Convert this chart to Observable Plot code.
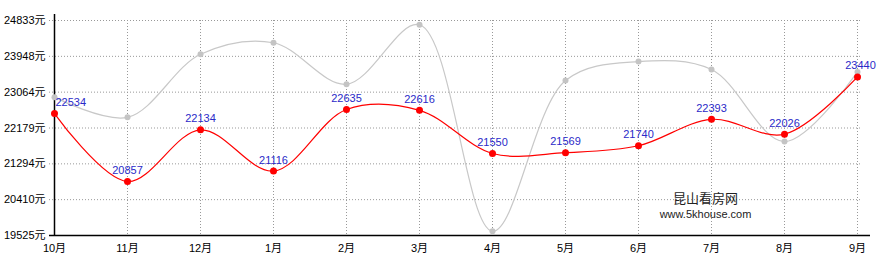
<!DOCTYPE html>
<html>
<head>
<meta charset="utf-8">
<script src="https://cdn.jsdelivr.net/npm/d3@7"></script>
<script src="https://cdn.jsdelivr.net/npm/@observablehq/plot@0.6"></script>
<style>
  html, body { margin: 0; padding: 0; background: #fff; }
  #chart svg { display: block; }
</style>
</head>
<body>
<div id="chart"></div>
<script>
const months = ["10月","11月","12月","1月","2月","3月","4月","5月","6月","7月","8月","9月"];
const avgPrice = [22534, 20857, 22134, 21116, 22635, 22616, 21550, 21569, 21740, 22393, 22026, 23440];
const otherPrice = [22941, 22442, 23998, 24284, 23260, 24727, 19632, 23351, 23818, 23622, 21843, 23563];
const yTicks = [19525, 20410, 21294, 22179, 23064, 23948, 24833];
const watermarkTitle = "昆山看房网";
const watermarkUrl = "www.5khouse.com";

const red = months.map((m, i) => ({month: m, value: avgPrice[i], i}));
const gray = months.map((m, i) => ({month: m, value: otherPrice[i]}));
const font = "Arial, 'Liberation Sans', 'Noto Sans CJK SC', sans-serif";
const labelFill = "#2a2ac8";
const last = months.length - 1;

const chart = Plot.plot({
  width: 892,
  height: 270,
  marginLeft: 49,
  marginRight: 30,
  marginTop: 20,
  marginBottom: 35,
  style: {fontFamily: font, fontSize: "11px", background: "#fff", color: "#000"},
  x: {type: "point", domain: months, padding: 0, inset: 0, label: null},
  y: {domain: [yTicks[0], yTicks[yTicks.length - 1]], inset: 0, label: null},
  marks: [
    Plot.gridY(yTicks, {stroke: "#999", strokeOpacity: 1, strokeDasharray: "1,2"}),
    Plot.gridX(months, {stroke: "#999", strokeOpacity: 1, strokeDasharray: "1,2"}),
    Plot.axisY(yTicks, {tickSize: 0, tickPadding: 4, tickFormat: d => d + "元", fill: "#000", fontSize: 11, label: null}),
    Plot.axisX({tickSize: 0, tickPadding: 9, fill: "#000", fontSize: 11, label: null}),
    Plot.ruleY([yTicks[0]], {stroke: "#000", strokeWidth: 1.5, insetRight: -8}),
    Plot.ruleX([months[0]], {stroke: "#000", strokeWidth: 1.5, insetTop: -6}),
    Plot.line(gray, {x: "month", y: "value", curve: "catmull-rom", stroke: "#c8c8c8", strokeWidth: 1.2}),
    Plot.dot(gray, {x: "month", y: "value", r: 3, fill: "#c4c4c4", stroke: "none"}),
    Plot.line(red, {x: "month", y: "value", curve: "catmull-rom", stroke: "#ff0000", strokeWidth: 1.2}),
    Plot.dot(red, {x: "month", y: "value", r: 3.5, fill: "#ff0000", stroke: "none"}),
    Plot.text(red.filter(d => d.i === 0), {x: "month", y: "value", text: d => String(d.value), dy: -11, dx: 1, textAnchor: "start", fill: labelFill, fontSize: 11}),
    Plot.text(red.filter(d => d.i > 0 && d.i < last), {x: "month", y: "value", text: d => String(d.value), dy: -11, textAnchor: "middle", fill: labelFill, fontSize: 11}),
    Plot.text(red.filter(d => d.i === last), {x: "month", y: "value", text: d => String(d.value), dy: -11, dx: 3, textAnchor: "middle", fill: labelFill, fontSize: 11}),
    Plot.text([watermarkTitle], {frameAnchor: "bottom-right", dx: -157, dy: -33, text: d => d, textAnchor: "middle", fill: "#222", fontSize: 13}),
    Plot.text([watermarkUrl], {frameAnchor: "bottom-right", dx: -157, dy: -18, text: d => d, textAnchor: "middle", fill: "#222", fontSize: 11})
  ]
});
document.getElementById("chart").appendChild(chart);
</script>
</body>
</html>
